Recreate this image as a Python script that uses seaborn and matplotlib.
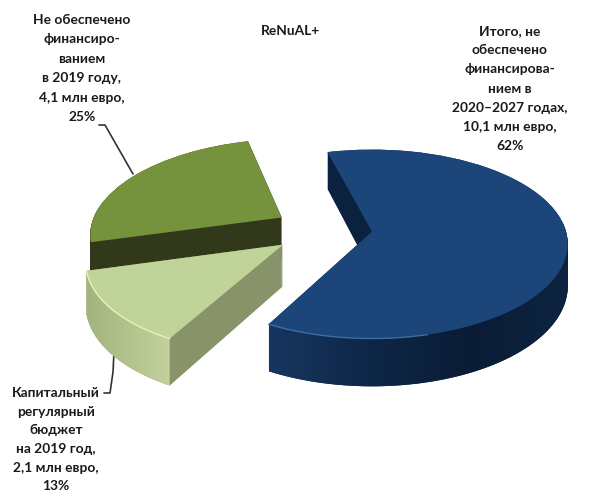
import numpy as np
import seaborn as sns
import matplotlib
matplotlib.use("Agg")
import matplotlib.pyplot as plt
from matplotlib.colors import LinearSegmentedColormap
from matplotlib.patches import Polygon
from matplotlib.transforms import Transform

# data, clockwise from the blue slice
money = [10.1, 2.1, 4.1]
explode_parts = [0.245, 0.27, 0.25]
title = "ReNuAL+"
label_future = ["Итого, не", "обеспечено", "финансирова-", "нием в", "2020–2027 годах,", "10,1 млн евро,", "62%"]
label_unfunded = ["Не обеспечено", "финансиро-", "ванием", "в 2019 году,", "4,1 млн евро,", "25%"]
label_capital = ["Капитальный", "регулярный", "бюджет", "на 2019 год,", "2,1 млн евро,", "13%"]

top_colors = sns.color_palette(["#1c4679", "#c0d398", "#75923c"])
face_colors = sns.color_palette(["#0b2140", "#88936a", "#31391a"])
rim_colors = [["#17365f", "#0e2748", "#0a1c35", "#0d2440"],
              ["#a3b37f", "#c3d29c"],
              ["#31391a", "#31391a"]]
light_colors = ["#3d6ca3", "#e6f5b4", "#75923c"]
light_until = [430, 600, 0]
layer_order = [3, 2, 1]

# tilted view of the pie, in pixels of the picture
# each slice: width, height, sideways lean
slice_views = [(194, 92.8, 0), (194, 94, 10), (188, 89, 11)]
SCALE_X, SCALE_Y, PERSP = 196, 92.8, 0.132
DEPTH = 41.5
ORIGIN_X, ORIGIN_Y = 324.3, 229


class TiltView(Transform):
    input_dims = 2
    output_dims = 2
    is_separable = False
    has_inverse = False

    def __init__(self, center, view, drop=0.0):
        super().__init__()
        self.center = center
        self.view = view
        self.drop = drop

    def transform_non_affine(self, values):
        values = np.asarray(values, dtype=float)
        wide, high, lean = self.view
        du = values[:, 0] - self.center[0]
        dv = values[:, 1] - self.center[1]
        den = 1 + PERSP * dv
        x = ORIGIN_X + SCALE_X * self.center[0] + (wide * du + lean * dv) / den
        y = ORIGIN_Y - SCALE_Y * self.center[1] - high * dv / den + self.drop * DEPTH / den
        return np.column_stack([x, y])


sns.set_theme(style="white")
plt.rcParams["font.family"] = ["Lato", "Open Sans", "DejaVu Sans"]

fig = plt.figure(figsize=(5.89, 4.92), dpi=100)
ax = fig.add_axes([0, 0, 1, 1])


def draw_pie(colors, drop, z):
    wedges, _ = ax.pie(money, explode=explode_parts, colors=colors, startangle=105,
                       counterclock=False, radius=1)
    for w, order, view in zip(wedges, layer_order, slice_views):
        w.set_transform(TiltView(w.center, view, drop) + ax.transData)
        w.set_zorder(order + z)
        w.set_linewidth(0)
    return wedges


# side walls, stacked from the bottom up
for drop in np.linspace(1, 0, 43):
    draw_pie(face_colors, drop, 0)

top = draw_pie(top_colors, 0, 0.8)

# outer rim with its gradient, and the thin light bevel
for w, order, view, rim, light, until in zip(top, layer_order, slice_views, rim_colors, light_colors, light_until):
    ang = np.radians(np.linspace(w.theta1, w.theta2, 300))
    ang = ang[np.sin(ang) < 0.12]
    arc = np.column_stack([w.center[0] + np.cos(ang), w.center[1] + np.sin(ang)])
    upper = TiltView(w.center, view, 0).transform_non_affine(arc)
    lower = TiltView(w.center, view, 1).transform_non_affine(arc)
    band = Polygon(np.vstack([upper, lower[::-1]]), transform=ax.transData)
    cmap = LinearSegmentedColormap.from_list("rim", rim)
    im = ax.imshow(np.linspace(0, 1, 256)[None, :], cmap=cmap, aspect="auto",
                   extent=[upper[:, 0].min(), upper[:, 0].max(), 480, 100], zorder=order + 0.5)
    im.set_clip_path(band)
    front = (np.sin(ang) < 0) & (upper[:, 0] < until)
    ax.plot(upper[front, 0], upper[front, 1], color=light, lw=1.0, zorder=order + 0.9)

ax.set(xlim=(0, 589), ylim=(492, 0), aspect="auto")
ax.axis("off")

text_style = dict(ha="center", va="center", fontsize=9.9, fontweight="bold", color="#1a1a1a", zorder=10)
ax.text(291, 31, title, **text_style)
for i, line in enumerate(label_future):
    ax.text(510, 31 + i * 19.2, line, **text_style)
for i, line in enumerate(label_unfunded):
    ax.text(82, 20 + i * 19.4, line, **text_style)
for i, line in enumerate(label_capital):
    ax.text(56, 393 + i * 18.7, line, **text_style)

# leader lines
ax.plot([99, 105, 133], [125, 125, 174], color="#333333", lw=1.2, zorder=0.5)
ax.plot([104, 110, 113, 114], [393, 393, 372, 352], color="#333333", lw=1.2, zorder=0.5)

fig.savefig("out.png", dpi=100, facecolor="white")
